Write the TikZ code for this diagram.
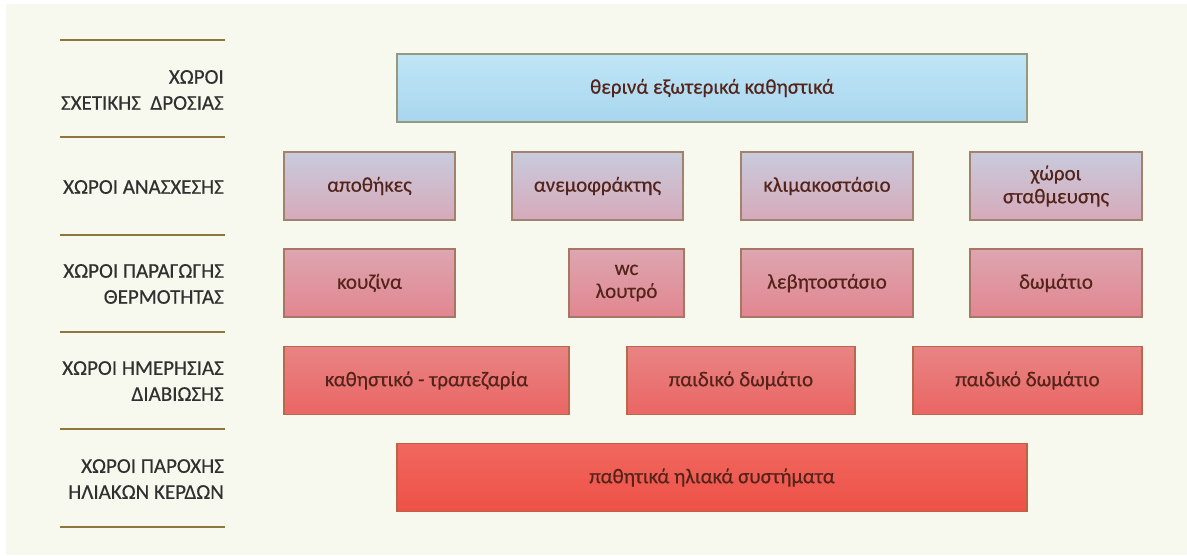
\documentclass[tikz,border=0pt]{standalone}
\usepackage{fontspec}
\setmainfont{Carlito}[FakeBold=0.4]
\definecolor{bgcream}{RGB}{248,249,238}
\definecolor{rulecol}{RGB}{140,120,60}
\definecolor{labcol}{RGB}{48,48,48}
\definecolor{boxtext}{RGB}{84,36,26}
\definecolor{aTop}{RGB}{192,229,246}
\definecolor{aBot}{RGB}{168,214,238}
\definecolor{aBrd}{RGB}{150,152,128}
\definecolor{bTop}{RGB}{200,203,221}
\definecolor{bBot}{RGB}{214,170,186}
\definecolor{bBrd}{RGB}{160,130,110}
\definecolor{cTop}{RGB}{220,166,176}
\definecolor{cBot}{RGB}{226,134,144}
\definecolor{cBrd}{RGB}{168,118,100}
\definecolor{dTop}{RGB}{232,132,132}
\definecolor{dBot}{RGB}{234,102,100}
\definecolor{dBrd}{RGB}{185,105,75}
\definecolor{eTop}{RGB}{240,104,94}
\definecolor{eBot}{RGB}{238,80,70}
\definecolor{eBrd}{RGB}{185,100,70}
\tikzset{
  boxbase/.style={rectangle, line width=1.6pt, inner sep=0pt, align=center,
    text=boxtext, font=\fontsize{21}{23}\selectfont, minimum height=68pt},
  rowA/.style={boxbase, draw=aBrd, top color=aTop, bottom color=aBot},
  rowB/.style={boxbase, draw=bBrd, top color=bTop, bottom color=bBot},
  rowC/.style={boxbase, draw=cBrd, top color=cTop, bottom color=cBot},
  rowD/.style={boxbase, draw=dBrd, top color=dTop, bottom color=dBot},
  rowE/.style={boxbase, draw=eBrd, top color=eTop, bottom color=eBot},
  sep/.style={draw=rulecol, line width=2.6pt},
  lab/.style={anchor=east, align=right, text=labcol, inner sep=0pt,
    font=\fontsize{21}{26}\selectfont}
}
\begin{document}
\begin{tikzpicture}[x=1pt,y=-1pt]
\useasboundingbox (0,0) rectangle (1187,555);
\fill[white] (0,0) rectangle (1187,555);
\fill[bgcream] (6,4) rectangle (1187,555);
% separators
\foreach \yy/\nm in {40/s1,137/s2,235/s3,332/s4,429/s5,527/s6}{
  \coordinate (\nm a) at (60,\yy);
  \coordinate (\nm b) at (225,\yy);
  \draw[sep] (\nm a) -- (\nm b);
}
% labels
\node[lab] (l1) at (224,90) {ΧΩΡΟΙ\\ΣΧΕΤΙΚΗΣ\ \ ΔΡΟΣΙΑΣ};
\node[lab] (l2) at (224,187) {ΧΩΡΟΙ ΑΝΑΣΧΕΣΗΣ};
\node[lab] (l3) at (224,284) {ΧΩΡΟΙ ΠΑΡΑΓΩΓΗΣ\\ΘΕΡΜΟΤΗΤΑΣ};
\node[lab] (l4) at (224,381) {ΧΩΡΟΙ ΗΜΕΡΗΣΙΑΣ\\ΔΙΑΒΙΩΣΗΣ};
\node[lab] (l5) at (224,479) {ΧΩΡΟΙ ΠΑΡΟΧΗΣ\\ΗΛΙΑΚΩΝ ΚΕΡΔΩΝ};
% row A
\node[rowA, minimum width=630pt] (a1) at (712,88) {θερινά εξωτερικά καθηστικά};
% row B
\node[rowB, minimum width=171pt] (b1) at (369.5,186) {αποθήκες};
\node[rowB, minimum width=171pt] (b2) at (597.5,186) {ανεμοφράκτης};
\node[rowB, minimum width=172pt] (b3) at (827,186) {κλιμακοστάσιο};
\node[rowB, minimum width=172pt] (b4) at (1056,186) {χώροι\\σταθμευσης};
% row C
\node[rowC, minimum width=171pt] (c1) at (369.5,283) {κουζίνα};
\node[rowC, minimum width=115pt] (c2) at (626.5,283) {wc\\λουτρό};
\node[rowC, minimum width=172pt] (c3) at (827,283) {λεβητοστάσιο};
\node[rowC, minimum width=172pt] (c4) at (1056,283) {δωμάτιο};
% row D
\node[rowD, minimum width=285pt] (d1) at (426.5,380.5) {καθηστικό - τραπεζαρία};
\node[rowD, minimum width=228pt] (d2) at (741,380.5) {παιδικό δωμάτιο};
\node[rowD, minimum width=229pt] (d3) at (1027.5,380.5) {παιδικό δωμάτιο};
% row E
\node[rowE, minimum width=630pt] (e1) at (712,477.5) {παθητικά ηλιακά συστήματα};
\end{tikzpicture}
\end{document}
